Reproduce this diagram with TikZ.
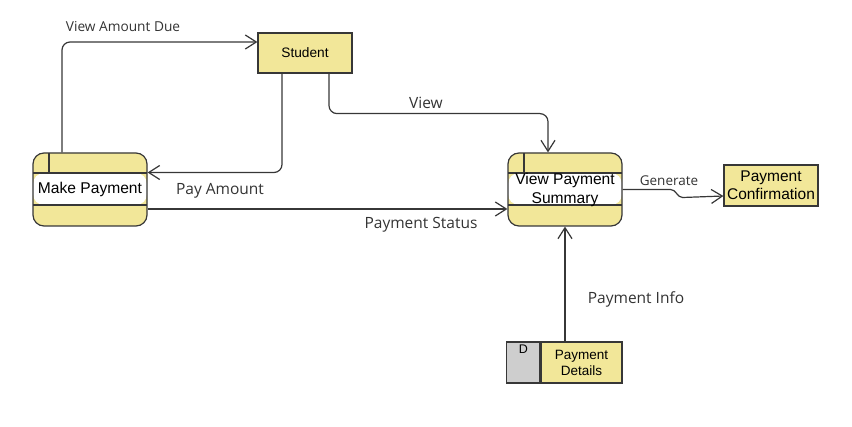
\documentclass[tikz,border=0pt]{standalone}
\usepackage{fontspec}
\setmainfont{Liberation Sans}
\newfontfamily\lblfont{Open Sans}
\usetikzlibrary{arrows.meta,calc,positioning}
\definecolor{procyel}{RGB}{242,231,153}
\definecolor{strokegray}{RGB}{55,55,55}
\definecolor{storegray}{RGB}{206,206,206}
\tikzset{
  entity/.style={draw=strokegray,fill=procyel,line width=1.2pt,inner sep=0pt,align=center},
  process/.style={draw=strokegray,fill=procyel,line width=1.2pt,rounded corners=11pt,
    minimum width=114pt,minimum height=73pt,inner sep=0pt,align=center,
    font=\fontsize{15.6}{19}\selectfont,
    path picture={
      \fill[white] ([yshift=-20pt]path picture bounding box.north west)
        rectangle ([yshift=21pt]path picture bounding box.south east);
      \draw[strokegray,line width=1.2pt]
        ([yshift=-20pt]path picture bounding box.north west) -- ([yshift=-20pt]path picture bounding box.north east)
        ([yshift=21pt]path picture bounding box.south west) -- ([yshift=21pt]path picture bounding box.south east)
        ([xshift=16pt]path picture bounding box.north west) -- ([xshift=16pt,yshift=-20pt]path picture bounding box.north west);
    }},
  flow/.style={draw=strokegray,line width=1.2pt,-{Straight Barb[length=11pt,width=14pt]},rounded corners=8pt},
  flowlbl/.style={font=\lblfont\fontsize{15.5}{17}\selectfont,text=black!80,inner sep=0pt}
}

\begin{document}
\begin{tikzpicture}[x=1pt,y=-1pt]
    \useasboundingbox (0,0) rectangle (852,427);

    % entities and processes
    \node[entity,minimum width=94pt,minimum height=40pt,font=\fontsize{13.7}{15}\selectfont] (st) at (305,53) {Student};
    \node[process] (mp) at (90,189.5) {Make Payment};
    \node[process] (vps) at (565,189.5) {View Payment\\Summary};
    \node[entity,minimum width=94pt,minimum height=41pt,font=\fontsize{15.5}{18}\selectfont] (pc) at (771,185.5) {Payment\\Confirmation};

    % data store
    \node[entity,minimum width=81pt,minimum height=41pt,font=\fontsize{13.5}{16}\selectfont] (pd) at (581.5,362.5) {Payment\\Details};
    \node[entity,fill=storegray,minimum width=33pt,minimum height=41pt,left=0pt of pd,
      font=\fontsize{12}{14}\selectfont] (pdid) {};
    \node[anchor=north,inner sep=0pt,font=\fontsize{12.5}{14}\selectfont] (pdtag) at ([yshift=-3pt]pdid.north) {D};

    % flows
    \draw[flow] ([xshift=-28pt]mp.north) |- ([yshift=11pt]st.west);
    \draw[flow] ([xshift=-23pt]st.south) |- ([yshift=17pt]mp.east);
    \draw[flow] ([xshift=24pt]st.south) -- ++(0,40) -| ([xshift=-17pt]vps.north);
    \draw[flow] ([yshift=-19.5pt]mp.east) -- ([yshift=-19.5pt]vps.west);
    \draw[flow,rounded corners=0pt] (vps.east) -- ++(48,0) to[out=0,in=180] ++(12,8) -- ([yshift=-10.5pt]pc.west);
    \draw[flow] (pd.north -| vps.south) -- (vps.south);

    % labels
    \node[flowlbl,font=\lblfont\fontsize{13.7}{15}\selectfont] (lblvad) at (123,27) {View Amount Due};
    \node[flowlbl] (lblpay) at (220,191) {Pay Amount};
    \node[flowlbl] (lblview) at (426,102.5) {View};
    \node[flowlbl] (lblstat) at (421,225) {Payment Status};
    \node[flowlbl,font=\lblfont\fontsize{13.5}{15}\selectfont] (lblgen) at (669,181) {Generate};
    \node[flowlbl] (lblinfo) at (636,299) {Payment Info};
\end{tikzpicture}
\end{document}
